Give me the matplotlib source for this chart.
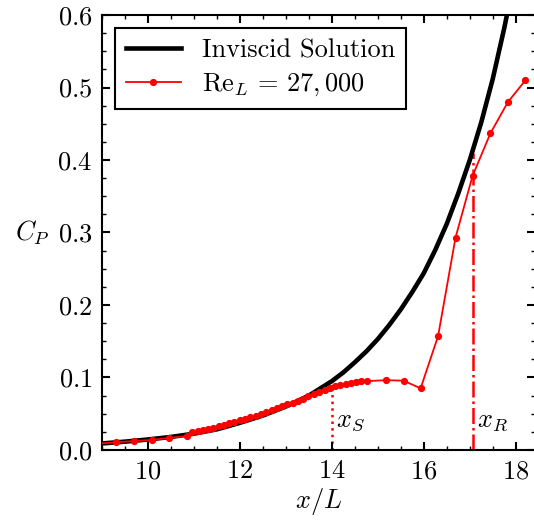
import numpy as np
import matplotlib
matplotlib.use("Agg")
import matplotlib.pyplot as plt

plt.rcParams['font.family'] = 'serif'
plt.rcParams['font.serif'] = ['cmr10']
plt.rcParams['mathtext.fontset'] = 'cm'
plt.rcParams['axes.formatter.use_mathtext'] = True
plt.rcParams['font.size'] = 19

# inviscid solution
x_inv = [9.0, 9.5, 10.0, 10.5, 11.0, 11.5, 12.0, 12.5, 13.0, 13.5, 14.0, 14.25, 14.5,
         14.75, 15.0, 15.25, 15.5, 15.75, 16.0, 16.25, 16.5, 16.75, 17.0, 17.25,
         17.5, 17.75, 18.0]
cp_inv = [0.0090, 0.0115, 0.0145, 0.0180, 0.0225, 0.0285, 0.0375, 0.0475, 0.0600,
          0.0750, 0.0950, 0.1070, 0.1210, 0.1360, 0.1530, 0.1725, 0.1940, 0.2180,
          0.2440, 0.2760, 0.3120, 0.3540, 0.4000, 0.4520, 0.5120, 0.5820, 0.6600]

# Re_L = 27,000 data
x_re = [8.92, 9.31, 9.70, 10.08, 10.46, 10.84,
        10.96, 11.08, 11.19, 11.31, 11.42, 11.54, 11.65, 11.77, 11.88, 12.00,
        12.11, 12.23, 12.34, 12.46, 12.57, 12.69, 12.80, 12.92, 13.03, 13.15,
        13.26, 13.38, 13.49, 13.61, 13.72, 13.84, 13.95, 14.07, 14.18, 14.30,
        14.41, 14.53, 14.64, 14.76,
        15.18, 15.56, 15.93, 16.31, 16.69, 17.06, 17.45, 17.83, 18.21]
cp_re = [0.0088, 0.0106, 0.0124, 0.0138, 0.0166, 0.0193,
         0.0245, 0.0260, 0.0280, 0.0295, 0.0310, 0.0330, 0.0350, 0.0370, 0.0390, 0.0410,
         0.0430, 0.0450, 0.0475, 0.0500, 0.0525, 0.0550, 0.0575, 0.0600, 0.0630, 0.0655,
         0.0680, 0.0710, 0.0740, 0.0770, 0.0800, 0.0830, 0.0860, 0.0880, 0.0900, 0.0915,
         0.0930, 0.0935, 0.0945, 0.0950,
         0.0963, 0.0956, 0.0850, 0.1570, 0.2930, 0.3780, 0.4370, 0.4800, 0.5100]

# separation / reattachment
x_s, cp_s_top = 14.0, 0.087
x_r, cp_r_top = 17.06, 0.41

fig = plt.figure(figsize=(5.34, 5.23), dpi=100)
ax = fig.add_axes([0.191, 0.1396, 0.811, 0.8317])

ax.plot(x_inv, cp_inv, color='black', lw=3.3, label='Inviscid Solution', zorder=2)
ax.plot(x_re, cp_re, color='red', lw=1.3, marker='o', markersize=4.2,
        label=r'$\mathrm{Re}_L\,=\,27,000$', zorder=3)

ax.plot([x_s, x_s], [0, cp_s_top], color='red', lw=1.8, ls=':', zorder=1)
ax.plot([x_r, x_r], [0, cp_r_top], color='red', lw=1.8, ls='-.', zorder=1)
ax.text(x_s + 0.1, 0.033, r'$x_S$', fontsize=19)
ax.text(x_r + 0.1, 0.033, r'$x_R$', fontsize=19)

ax.set_xlim(9, 18.42)
ax.set_ylim(0, 0.6)
ax.set_xticks([10, 12, 14, 16, 18])
ax.set_xticks(np.arange(9, 18.5, 0.5), minor=True)
ax.set_yticks([0.0, 0.1, 0.2, 0.3, 0.4, 0.5, 0.6])
ax.set_yticks(np.arange(0, 0.601, 0.025), minor=True)
ax.tick_params(which='both', direction='in', top=True, right=True)
ax.tick_params(which='major', length=6, width=1.5, labelsize=19, pad=7)
ax.tick_params(which='minor', length=3, width=1.0)
for s in ax.spines.values():
    s.set_linewidth(1.5)

ax.set_xlabel(r'$x/L$', fontsize=19, labelpad=2)
ax.set_ylabel(r'$C_P$', fontsize=19, rotation=0, labelpad=18, va='center')

leg = ax.legend(loc='upper left', fancybox=False, framealpha=1, edgecolor='black',
                handlelength=2.1, handletextpad=0.8, borderaxespad=0.5, fontsize=19,
                borderpad=0.4, labelspacing=0.35)
leg.get_frame().set_linewidth(1.5)

fig.savefig('out.png', dpi=100)
